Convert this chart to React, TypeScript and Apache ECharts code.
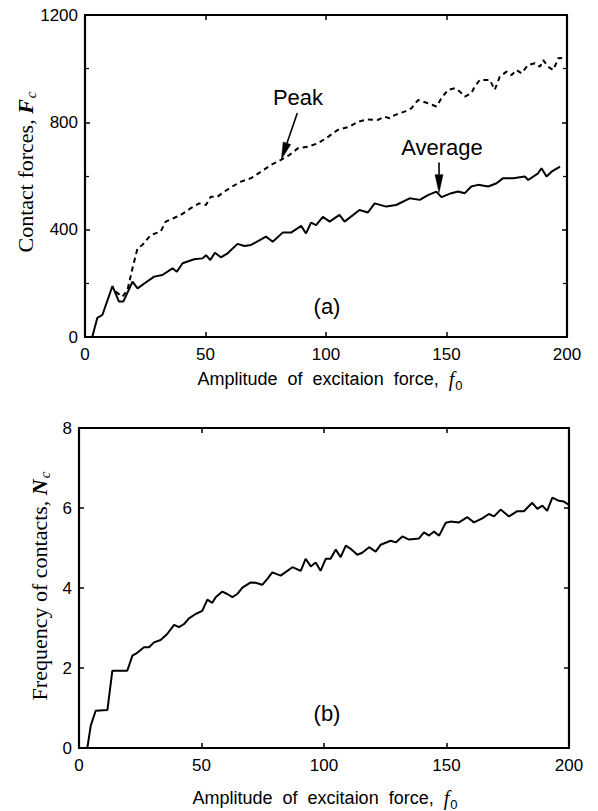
import React, { useEffect, useRef } from "react";
import * as echarts from "echarts";

// ---- Data ----
const xTicks = [0, 50, 100, 150, 200];
const forceTicks = [0, 400, 800, 1200];
const freqTicks = [0, 2, 4, 6, 8];

// (a) Average contact force
const avgX = [0, 3, 5.1, 7.2, 11.4, 14.1, 15.9, 19.7, 21.8, 25.2, 28.7, 32.1, 36.3, 38.1, 40.5, 45.3, 48.8, 50.2, 52, 53.9, 56.4, 59.2, 63.3, 66.1, 68.9, 75.1, 77.9, 82, 85.5, 89.7, 91.7, 93.8, 95.9, 98.7, 101.5, 105.6, 107.7, 113.9, 117.4, 120.2, 125, 129.1, 134.7, 138.9, 142.3, 145.8, 147.9, 152, 154.8, 157.6, 160.3, 163.1, 167.3, 170.8, 173.5, 177.7, 182.5, 183.9, 188, 189.4, 191.5, 193.6, 197.1];
const avgForce = [0, 0, 71, 82, 190, 132, 132, 206, 181, 203, 225, 231, 256, 243, 275, 290, 293, 305, 287, 314, 297, 312, 347, 339, 343, 374, 355, 389, 389, 414, 386, 426, 417, 448, 430, 455, 430, 473, 464, 498, 486, 492, 517, 511, 529, 542, 521, 536, 542, 536, 561, 567, 561, 573, 592, 592, 598, 585, 610, 629, 598, 616, 635];

// (a) Peak contact force
const peakX = [12.7, 15.5, 17.6, 19.7, 21.8, 23.8, 27.3, 31.4, 33.5, 39.8, 43.9, 47.4, 50.2, 52.2, 55, 57.8, 60.6, 64.7, 68.9, 73, 77.2, 81.3, 84.8, 88.3, 92.4, 96.6, 100.1, 104.9, 109.8, 113.2, 117.4, 121.6, 124.3, 126.4, 128.5, 132.6, 135.4, 138.2, 142.3, 145.8, 147.9, 150.6, 153.4, 155.5, 157.6, 160.3, 161.7, 163.8, 168, 170, 172.1, 174.9, 177, 179, 181.1, 183.9, 186.7, 188.8, 190.1, 192.2, 194.3, 196.4, 198];
const peakForce = [169, 150, 175, 256, 331, 343, 380, 393, 430, 455, 480, 498, 492, 523, 523, 542, 558, 579, 592, 616, 641, 660, 678, 703, 709, 722, 741, 772, 784, 802, 811, 809, 821, 815, 827, 840, 852, 883, 871, 859, 890, 921, 927, 915, 896, 908, 933, 958, 958, 921, 970, 989, 976, 995, 983, 1014, 1020, 1007, 1032, 1007, 995, 1039, 1040];

// (b) Frequency of contacts
const freqX = [0, 3.4, 4.8, 6.8, 11.6, 13.6, 19.7, 21.8, 23.8, 26.5, 28.6, 30.6, 33.3, 36, 38.8, 40.8, 42.9, 44.9, 47.6, 50.3, 52.4, 54.4, 55.8, 58.5, 60.5, 62.6, 64.6, 66.7, 70.1, 72.1, 74.8, 76.9, 78.9, 82.3, 87.1, 90.5, 92.5, 94.6, 96.6, 98.6, 100.7, 102.7, 104.8, 106.8, 108.9, 110.9, 113.6, 115.6, 118.4, 121.1, 123.1, 127.2, 129.3, 132, 134.7, 138.8, 140.8, 142.9, 144.9, 147, 149.7, 151.7, 155.1, 158.5, 161.2, 164.6, 167.3, 169.4, 172.1, 175.5, 178.9, 181.6, 185, 187.1, 189.1, 191.1, 193.2, 195.9, 197.9, 200];
const contactFreq = [0, 0, 0.56, 0.93, 0.95, 1.93, 1.93, 2.31, 2.38, 2.52, 2.52, 2.64, 2.7, 2.85, 3.08, 3.02, 3.1, 3.24, 3.35, 3.43, 3.71, 3.63, 3.77, 3.91, 3.85, 3.77, 3.85, 4.01, 4.14, 4.13, 4.08, 4.23, 4.39, 4.31, 4.52, 4.43, 4.73, 4.54, 4.64, 4.43, 4.73, 4.73, 4.96, 4.77, 5.06, 4.98, 4.83, 4.88, 5.02, 4.91, 5.08, 5.18, 5.14, 5.29, 5.21, 5.24, 5.39, 5.31, 5.41, 5.31, 5.63, 5.66, 5.64, 5.77, 5.64, 5.74, 5.85, 5.79, 5.96, 5.79, 5.92, 5.92, 6.13, 5.98, 6.06, 5.93, 6.26, 6.18, 6.16, 6.08];

// Annotation arrows (data coordinates: start -> tip)
const peakArrow = [[88.1, 835], [81.5, 662]];
const avgArrow = [[146.9, 650], [146.9, 538]];

const zip = (xs: number[], ys: number[]) => xs.slice(0, Math.min(xs.length, ys.length)).map((x, i) => [x, ys[i]]);

const SANS = "'Liberation Sans', Arial, sans-serif";
const SERIF = "'Liberation Serif', 'Times New Roman', serif";

let measureCtx: CanvasRenderingContext2D | null = null;
function measure(text: string, font: string): number {
  if (!measureCtx) measureCtx = document.createElement("canvas").getContext("2d");
  if (!measureCtx) return text.length * 8;
  measureCtx.font = font;
  return measureCtx.measureText(text).width;
}

type Piece = { text: string; font: string; dy?: number; gap?: number };
function composite(pieces: Piece[], cx: number, cy: number, rotation = 0) {
  const widths = pieces.map((p) => measure(p.text, p.font) + (p.gap || 0));
  const total = widths.reduce((a, b) => a + b, 0);
  let x = -total / 2;
  const children = pieces.map((p, i) => {
    const el = {
      type: "text",
      x: x + (p.gap || 0),
      y: p.dy || 0,
      style: { text: p.text, font: p.font, fill: "#000", align: "left", verticalAlign: "middle", textAlign: "left", textVerticalAlign: "middle" },
    };
    x += widths[i];
    return el;
  });
  return { type: "group", x: cx, y: cy, rotation, children };
}

function plainText(text: string, cx: number, cy: number, size = 22) {
  return {
    type: "text",
    x: cx,
    y: cy,
    style: { text, font: `${size}px ${SANS}`, fill: "#000", align: "center", verticalAlign: "middle", textAlign: "center", textVerticalAlign: "middle" },
  };
}

// arrow (shaft + filled head) built from pixel positions of data points
function arrowGraphic(p0: number[], p1: number[], headLen: number, headW: number) {
  const dx = p1[0] - p0[0];
  const dy = p1[1] - p0[1];
  const len = Math.hypot(dx, dy) || 1;
  const ux = dx / len;
  const uy = dy / len;
  const bx = p1[0] - ux * headLen;
  const by = p1[1] - uy * headLen;
  const nx = -uy * (headW / 2);
  const ny = ux * (headW / 2);
  return [
    { type: "line", shape: { x1: p0[0], y1: p0[1], x2: bx, y2: by }, style: { stroke: "#000", lineWidth: 1.6 } },
    {
      type: "polygon",
      shape: { points: [[p1[0], p1[1]], [bx + nx, by + ny], [bx - nx, by - ny]] },
      style: { fill: "#000", stroke: "#000", lineWidth: 0.5 },
    },
  ];
}

const axisLine = { show: true, onZero: false, lineStyle: { color: "#000", width: 2.2 } };
const tick = { show: true, inside: true, length: 5, lineStyle: { color: "#000", width: 1.5 } };
const label = { color: "#000", fontSize: 17, fontFamily: SANS, formatter: (v: number) => String(v) };

function xAxisPair(gridIndex: number) {
  const base = { gridIndex, type: "value", min: xTicks[0], max: xTicks[xTicks.length - 1], interval: 50, splitLine: { show: false }, axisLine, axisTick: tick };
  return [
    { ...base, position: "bottom", axisLabel: { ...label, margin: 9 } },
    { ...base, position: "top", axisLabel: { show: false } },
  ];
}

function yAxisPair(gridIndex: number, ticks: number[], minor: boolean) {
  const base = {
    gridIndex,
    type: "value",
    min: ticks[0],
    max: ticks[ticks.length - 1],
    interval: ticks[1] - ticks[0],
    splitLine: { show: false },
    axisLine,
    axisTick: tick,
    minorTick: { show: minor, splitNumber: 2, length: 4, lineStyle: { color: "#000", width: 1.2 } },
    minorSplitLine: { show: false },
  };
  return [
    { ...base, position: "left", axisLabel: { ...label, margin: 7 } },
    { ...base, position: "right", axisLabel: { show: false } },
  ];
}

export default function App() {
  const ref = useRef<HTMLDivElement>(null);
  useEffect(() => {
    if (!ref.current) return;
    const chart = echarts.init(ref.current, undefined, { renderer: "svg" });
    const xNameTop = composite(
      [
        { text: "Amplitude  of  excitaion  force,  ", font: `18px ${SANS}` },
        { text: "f", font: `italic 20px ${SERIF}` },
        { text: "0", font: `13px ${SANS}`, dy: 6, gap: 1 },
      ],
      330,
      379
    );
    const xNameBottom = composite(
      [
        { text: "Amplitude  of  excitaion  force,  ", font: `18px ${SANS}` },
        { text: "f", font: `italic 20px ${SERIF}` },
        { text: "0", font: `13px ${SANS}`, dy: 6, gap: 1 },
      ],
      325,
      798
    );
    const yNameTop = composite(
      [
        { text: "Contact forces, ", font: `22px ${SERIF}` },
        { text: "F", font: `italic bold 22px ${SERIF}` },
        { text: "c", font: `italic 15px ${SERIF}`, dy: 6, gap: 1 },
      ],
      25,
      172,
      Math.PI / 2
    );
    const yNameBottom = composite(
      [
        { text: "Frequency of contacts, ", font: `22px ${SERIF}` },
        { text: "N", font: `italic bold 22px ${SERIF}` },
        { text: "c", font: `italic 15px ${SERIF}`, dy: 6, gap: 1 },
      ],
      39,
      586,
      Math.PI / 2
    );

    const texts = [
      plainText("Peak", 298, 97),
      plainText("Average", 442, 147),
      plainText("(a)", 327, 306),
      plainText("(b)", 327, 713),
      xNameTop,
      xNameBottom,
      yNameTop,
      yNameBottom,
    ];

    const option = {
      animation: false,
      backgroundColor: "#fff",
      grid: [
        { left: 85, top: 15, width: 482, height: 322 },
        { left: 79, top: 428, width: 490, height: 320 },
      ],
      xAxis: [...xAxisPair(0), ...xAxisPair(1)],
      yAxis: [...yAxisPair(0, forceTicks, true), ...yAxisPair(1, freqTicks, false)],
      series: [
        {
          name: "Average",
          type: "line",
          xAxisIndex: 0,
          yAxisIndex: 0,
          data: zip(avgX, avgForce),
          showSymbol: false,
          symbol: "none",
          lineStyle: { color: "#000", width: 2 },
        },
        {
          name: "Peak",
          type: "line",
          xAxisIndex: 0,
          yAxisIndex: 0,
          data: zip(peakX, peakForce),
          showSymbol: false,
          symbol: "none",
          lineStyle: { color: "#000", width: 2, type: [5, 4] },
        },
        {
          name: "Frequency",
          type: "line",
          xAxisIndex: 2,
          yAxisIndex: 2,
          data: zip(freqX, contactFreq),
          showSymbol: false,
          symbol: "none",
          lineStyle: { color: "#000", width: 2 },
        },
      ],
      graphic: texts,
    };
    chart.setOption(option as any);

    const px = (p: number[]) => chart.convertToPixel({ xAxisIndex: 0, yAxisIndex: 0 }, p) as number[];
    const arrows = [
      ...arrowGraphic(px(peakArrow[0]), px(peakArrow[1]), 17, 8),
      ...arrowGraphic(px(avgArrow[0]), px(avgArrow[1]), 18, 8),
    ];
    chart.setOption({ graphic: [...texts, ...arrows] } as any);
    return () => chart.dispose();
  }, []);
  return <div ref={ref} style={{ position: "absolute", left: 0, top: 0, width: 598, height: 811, background: "#fff" }} />;
}
